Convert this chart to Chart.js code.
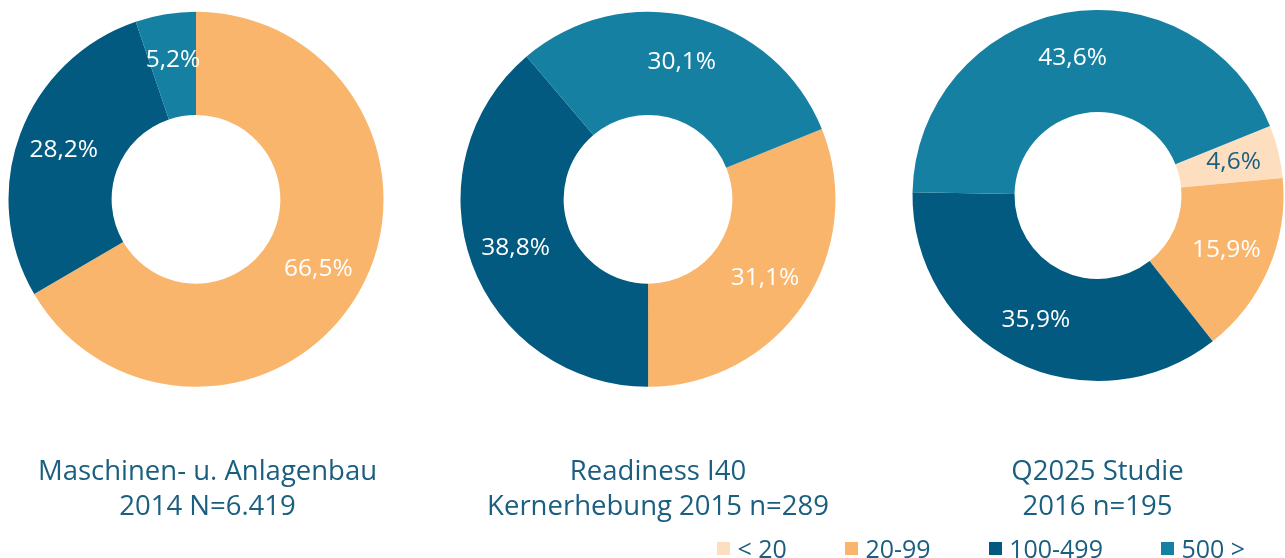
<!DOCTYPE html>
<html>
<head>
<meta charset="utf-8">
<script src="https://cdn.jsdelivr.net/npm/chart.js@4"></script>
<style>
  html, body { margin: 0; padding: 0; background: #fff; overflow: hidden; }
  body { width: 1285px; height: 558px; position: relative; font-family: "Open Sans", sans-serif; }
  .box { position: absolute; top: 0; width: 400px; height: 558px; }
  #legend { position: absolute; left: 717px; top: 534px; height: 28px; display: flex; align-items: center; font-size: 25px; color: #1a5e80; line-height: 28px; white-space: nowrap; }
  #legend .item { display: flex; align-items: center; flex-shrink: 0; margin-right: 58px; }
  #legend .sw { width: 13px; height: 13px; margin-right: 7.5px; flex-shrink: 0; }
</style>
</head>
<body>
<div class="box" id="b1"><canvas id="c1"></canvas></div>
<div class="box" id="b2"><canvas id="c2"></canvas></div>
<div class="box" id="b3"><canvas id="c3"></canvas></div>
<div id="legend"></div>
<script>
// ---- data ----
const categories = ['< 20', '20-99', '100-499', '500 >'];
const colors = ['#fddfbf', '#f9b56b', '#025a80', '#1680a3'];

const values2014 = [0, 66.5, 28.2, 5.2];
const values2015 = [0, 31.1, 38.8, 30.1];
const values2016 = [4.6, 15.9, 35.9, 43.6];

const title2014 = ['Maschinen- u. Anlagenbau', '2014 N=6.419'];
const title2015 = ['Readiness I40', 'Kernerhebung 2015 n=289'];
const title2016 = ['Q2025 Studie', '2016 n=195'];

const TEXT = '#1a5e80';

// value labels on arcs
const arcLabels = {
  id: 'arcLabels',
  afterDatasetsDraw(chart) {
    const ctx = chart.ctx;
    const meta = chart.getDatasetMeta(0);
    const data = chart.data.datasets[0].data;
    ctx.save();
    ctx.font = '24.5px "Open Sans"';
    ctx.textAlign = 'center';
    ctx.textBaseline = 'middle';
    meta.data.forEach((arc, i) => {
      if (!data[i]) return;
      const p = arc.getProps(['x', 'y', 'startAngle', 'endAngle', 'innerRadius', 'outerRadius'], true);
      const mid = (p.startAngle + p.endAngle) / 2;
      const r = p.innerRadius + 0.55 * (p.outerRadius - p.innerRadius);
      ctx.fillStyle = i === 0 ? TEXT : '#ffffff';
      ctx.fillText(data[i].toFixed(1).replace('.', ',') + '%', p.x + Math.cos(mid) * r, p.y + Math.sin(mid) * r);
    });
    ctx.restore();
  }
};

// two-line caption beneath each doughnut
const caption = {
  id: 'caption',
  afterDraw(chart, args, opts) {
    const ctx = chart.ctx;
    const meta = chart.getDatasetMeta(0);
    const cx = meta.data[0].x + opts.dx;
    ctx.save();
    ctx.font = '27.5px "Open Sans"';
    ctx.fillStyle = TEXT;
    ctx.textAlign = 'center';
    ctx.textBaseline = 'alphabetic';
    opts.lines.forEach((t, i) => ctx.fillText(t, cx, opts.baseline + i * opts.lineHeight));
    ctx.restore();
  }
};

function makeChart(id, boxId, values, lines, cx, cy, r, rotation, dx) {
  const box = document.getElementById(boxId);
  box.style.left = (cx - 200) + 'px';
  const side = 200 - r;
  return new Chart(document.getElementById(id), {
    type: 'doughnut',
    data: {
      labels: categories,
      datasets: [{ data: values, backgroundColor: colors, borderWidth: 0 }]
    },
    options: {
      responsive: true,
      maintainAspectRatio: false,
      animation: false,
      cutout: '45%',
      rotation: rotation,
      layout: { padding: { top: cy - r, bottom: 558 - cy - r, left: side, right: side } },
      plugins: {
        legend: { display: false },
        tooltip: { enabled: false },
        caption: { lines: lines, dx: dx, baseline: 479.5, lineHeight: 35 }
      }
    },
    plugins: [arcLabels, caption]
  });
}

makeChart('c1', 'b1', values2014, title2014, 195.5, 199.3, 187.5, 0, 11.5);
makeChart('c2', 'b2', values2015, title2015, 647.5, 199.3, 187.5, 68, 10);
makeChart('c3', 'b3', values2016, title2016, 1098.3, 195.5, 185.5, 68, -0.5);

// legend
const legend = document.getElementById('legend');
categories.forEach((c, i) => {
  const item = document.createElement('div');
  item.className = 'item';
  const sw = document.createElement('div');
  sw.className = 'sw';
  sw.style.background = colors[i];
  const tx = document.createElement('span');
  tx.textContent = c;
  item.appendChild(sw);
  item.appendChild(tx);
  legend.appendChild(item);
});
</script>
</body>
</html>
